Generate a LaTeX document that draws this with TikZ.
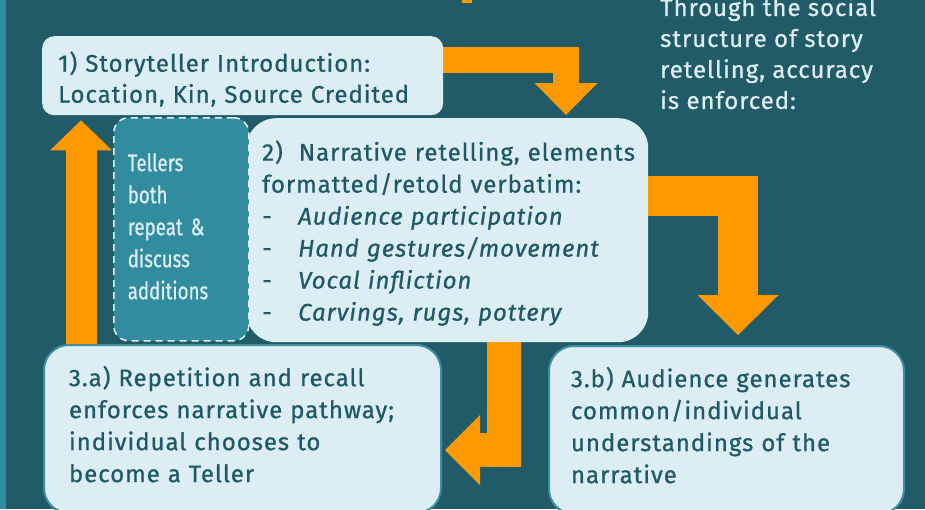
\documentclass[tikz,border=0pt]{standalone}
\usepackage{fontspec}
\setmainfont{Fira Sans}[LetterSpace=4,FakeBold=0.8]
\newfontfamily\condfont{Fira Sans}[FakeStretch=0.78,FakeBold=0.8]
\usetikzlibrary{arrows.meta,calc}
\definecolor{bg}{HTML}{225B68}
\definecolor{strip}{HTML}{2F8A9E}
\definecolor{boxc}{HTML}{DCEEF3}
\definecolor{txt}{HTML}{1F5966}
\definecolor{orng}{HTML}{FF9900}
\definecolor{dbox}{HTML}{318C9F}
\definecolor{edge}{HTML}{3D8FA1}
\newcommand{\topfill}[1]{\rule{0pt}{#1}}
\newcommand{\botfill}[1]{\rule[-#1]{0pt}{#1}}
\tikzset{
  box/.style={fill=boxc, text=txt, align=left, anchor=north west, inner ysep=0pt,
    font=\fontsize{24}{32}\selectfont},
  arr/.style={draw=orng, line join=miter, line cap=butt},
}
\begin{document}
\begin{tikzpicture}[x=1pt,y=-1pt]
\useasboundingbox (0,0) rectangle (925,509);
\clip (0,0) rectangle (925,509);
\fill[bg] (0,0) rectangle (925,509);
\fill[strip] (0,0) rectangle (6,509);
\fill[orng] (462,0) rectangle (472,3);

\node[box, rounded corners=12pt, inner xsep=16pt, minimum width=401pt, minimum height=79pt,
  text width=369pt, font=\fontsize{24}{31}\selectfont] (b1) at (42,36)
  {\topfill{27pt}1) Storyteller Introduction:\\Location, Kin, Source Credited};

\node[box, rounded corners=30pt, inner xsep=16pt, minimum width=402pt, minimum height=224pt,
  text width=370pt] (b2) at (246,118)
  {\topfill{26pt}2)\ \ Narrative retelling, elements\\formatted/retold verbatim:\\
   \makebox[36pt][l]{-}\textit{Audience participation}\\
   \makebox[36pt][l]{-}\textit{Hand gestures/movement}\\
   \makebox[36pt][l]{-}\textit{Vocal infliction}\\
   \makebox[36pt][l]{-}\textit{Carvings, rugs, pottery}};

\node[box, fill=dbox, rounded corners=15pt, draw=boxc, dashed,
  dash pattern=on 7pt off 5pt, line width=1.5pt, text=boxc, inner xsep=14pt,
  minimum width=135pt, minimum height=223pt, text width=107pt,
  font=\condfont\fontsize{24}{32}\selectfont] (tel) at (113,117)
  {Tellers\\both\\repeat \&\\discuss\\additions\botfill{6pt}};

\node[box, draw=edge, line width=2pt, rounded corners=25pt, inner xsep=25pt,
  minimum width=397pt, minimum height=168pt, text width=347pt] (b3a) at (43,344)
  {3.a) Repetition and recall\\enforces narrative pathway;\\individual chooses to\\become a Teller\botfill{10pt}};

\node[box, draw=edge, line width=2pt, rounded corners=25pt, inner xsep=22pt,
  minimum width=355pt, minimum height=168pt, text width=311pt] (b3b) at (548,345)
  {3.b) Audience generates\\common/individual\\understandings of the\\narrative\botfill{10pt}};

\node[anchor=north west, inner sep=0pt, text=boxc, align=left,
  font=\fontsize{24}{31}\selectfont] (intro) at (660,-3)
  {Through the social\\structure of story\\retelling, accuracy\\is enforced:};

% arrows
\draw[arr, line width=26pt, -{Triangle[width=63pt,length=32pt,line width=0pt]}]
  ($(b1.north east)+(0,24)$) -| ($(b2.north west)+(320,-3)$);
\draw[arr, line width=40pt, -{Triangle[width=81pt,length=40pt,line width=0pt]}]
  ($(b2.north east)+(0,78)$) -| ($(b3b.north west)+(190,-10)$);
\draw[arr, line width=34pt, -{Triangle[width=70pt,length=35pt,line width=0pt]}]
  ($(b2.south west)+(258,0)$) |- ($(b3a.north east)+(3,106)$);
\draw[arr, line width=31pt, -{Triangle[width=62pt,length=30pt,line width=0pt]}]
  ($(b3a.north west)+(38,0)$) -- ($(b1.south west)+(39,5)$);
\end{tikzpicture}
\end{document}
